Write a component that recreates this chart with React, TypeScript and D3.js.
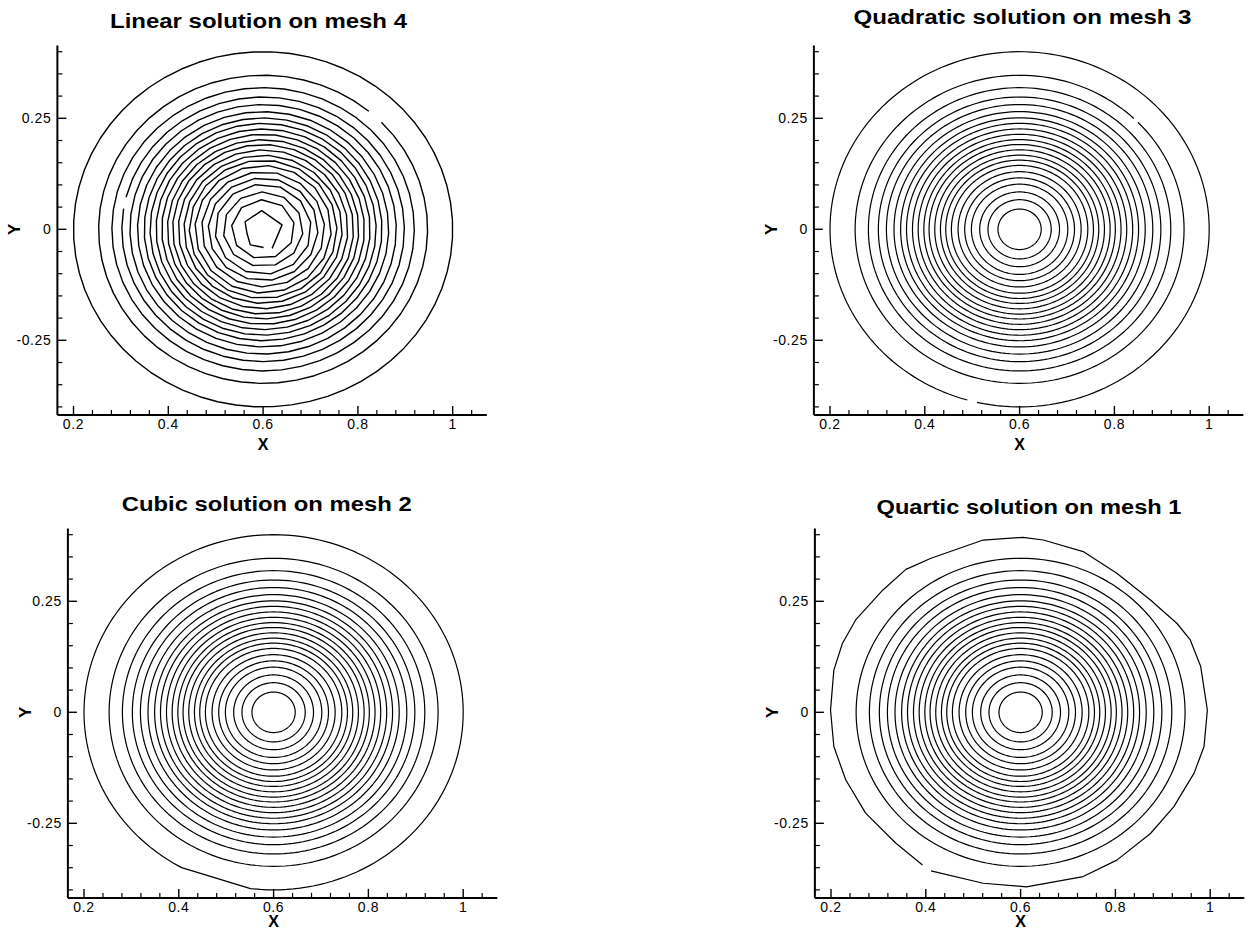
import React from 'react';
import * as d3 from 'd3';

// ---------------- data ----------------
const ringRadii = [0.0456, 0.0667, 0.0842, 0.1017, 0.1158, 0.1298, 0.1439, 0.1558, 0.167, 0.179, 0.191,
  0.202, 0.214, 0.226, 0.2386, 0.251, 0.265, 0.281, 0.298, 0.319, 0.347, 0.4];
const centerX = 0.6;
const centerY = 0;

const xMajorTicks = [0.2, 0.4, 0.6, 0.8, 1.0];
const xMajorLabels = ['0.2', '0.4', '0.6', '0.8', '1'];
const yMajorTicks = [0.25, 0, -0.25];
const yMajorLabels = ['0.25', '0', '-0.25'];

const titles = ['Linear solution on mesh 4', 'Quadratic solution on mesh 3', 'Cubic solution on mesh 2', 'Quartic solution on mesh 1'];

// innermost contour of the linear solution (polygonal, open at the bottom gap)
const linearInnerRing: [number, number][] = [
  [0.619, -0.043], [0.640, 0.010], [0.597, 0.042], [0.562, 0.017], [0.566, -0.009], [0.573, -0.035], [0.601, -0.041]];
// vertex counts of linear contours (piecewise-linear look)
const linearVertexCounts = [7, 9, 11, 12, 14, 15, 16, 18, 20, 22, 24, 26, 28, 30, 32, 34, 36, 40, 44, 48, 56, 64];

// irregular outer contour of the quartic solution (open at the gap)
const quarticOuterRing: [number, number][] = [
  [0.393, -0.344], [0.337, -0.295], [0.273, -0.227], [0.231, -0.152], [0.206, -0.077], [0.199, 0.005],
  [0.206, 0.095], [0.224, 0.155], [0.252, 0.208], [0.309, 0.275], [0.358, 0.322], [0.411, 0.347],
  [0.521, 0.388], [0.605, 0.394], [0.648, 0.388], [0.732, 0.362], [0.803, 0.313], [0.874, 0.253],
  [0.930, 0.200], [0.958, 0.163], [0.980, 0.103], [0.994, 0.005], [0.987, -0.077], [0.966, -0.137],
  [0.923, -0.213], [0.874, -0.273], [0.803, -0.333], [0.732, -0.370], [0.612, -0.393], [0.521, -0.385],
  [0.411, -0.357]];

// small gaps in contours: [panel, ring, fromDeg, toDeg]
const contourGaps: [number, number, number, number][] = [
  [0, 20, 44, 50],
  [0, 18, 166, 171],
  [1, 21, -106, -103],
  [1, 20, 44, 46],
];
// flattened (chord) parts of contours: [panel, ring, fromDeg, toDeg]
const contourChords: [number, number, number, number][] = [
  [2, 21, -119, -97],
];

// ---------------- layout ----------------
const KX = 474;
const KY = 444;
const X_MIN = 0.166, X_MAX = 1.072, Y_MIN = -0.418, Y_MAX = 0.414;

const panels = [
  { x0: 73.5, y0: 229.3, titleX: 258.5, titleY: 28, titleW: 297, yLabelX: 20, xLabelY: 449.5 },
  { x0: 830, y0: 229.3, titleX: 1022.5, titleY: 24, titleW: 338, yLabelX: 777, xLabelY: 449.5 },
  { x0: 84, y0: 712.3, titleX: 266.7, titleY: 511, titleW: 290, yLabelX: 31, xLabelY: 927 },
  { x0: 831, y0: 712.3, titleX: 1029, titleY: 514, titleW: 305, yLabelX: 778, xLabelY: 927 },
];

const FONT = '"Liberation Sans", Arial, Helvetica, sans-serif';

function ringAngles(n: number, rot: number, gap?: [number, number], chord?: [number, number]) {
  let angles: number[];
  if (gap) {
    const start = gap[1];
    const end = gap[0] + 360;
    const steps = Math.max(2, Math.round((n * (end - start)) / 360));
    angles = d3.range(steps + 1).map((i) => start + ((end - start) * i) / steps);
  } else {
    angles = d3.range(n).map((i) => rot + (i * 360) / n);
  }
  if (chord) {
    const norm = (a: number) => ((a % 360) + 360) % 360;
    const c0 = norm(chord[0]);
    const c1 = norm(chord[1]);
    angles = angles.filter((a) => {
      const na = norm(a);
      return !(na > c0 && na < c1);
    });
    angles.push(chord[0], chord[1]);
    angles = angles.map(norm).sort((a, b) => a - b);
  }
  return angles;
}

function Panel({ idx }: { idx: number }) {
  const p = panels[idx];
  const sx = d3.scaleLinear().domain([0.2, 1.0]).range([p.x0, p.x0 + 0.8 * KX]);
  const sy = d3.scaleLinear().domain([0, 0.25]).range([p.y0, p.y0 - 0.25 * KY]);
  const lineOpen = d3.line<[number, number]>().x((d) => sx(d[0])).y((d) => sy(d[1])).curve(d3.curveLinear);
  const lineClosed = d3.line<[number, number]>().x((d) => sx(d[0])).y((d) => sy(d[1])).curve(d3.curveLinearClosed);

  const paths: string[] = [];
  ringRadii.forEach((r, k) => {
    if (idx === 0 && k === 0) {
      paths.push(lineOpen(linearInnerRing) || '');
      return;
    }
    if (idx === 3 && k === ringRadii.length - 1) {
      paths.push(lineOpen(quarticOuterRing) || '');
      return;
    }
    const g = contourGaps.find((c) => c[0] === idx && c[1] === k);
    const ch = contourChords.find((c) => c[0] === idx && c[1] === k);
    const n = idx === 0 ? linearVertexCounts[k] : 180;
    const rot = idx === 0 ? (k * 13) % 30 : 0;
    const angles = ringAngles(n, rot, g ? [g[2], g[3]] : undefined, ch ? [ch[2], ch[3]] : undefined);
    const pts: [number, number][] = angles.map((a) => {
      const t = (a * Math.PI) / 180;
      return [centerX + r * Math.cos(t), centerY + r * Math.sin(t)];
    });
    paths.push((g ? lineOpen(pts) : lineClosed(pts)) || '');
  });

  const xMinor = d3.range(0.24, 1.06, 0.04).filter((v) => Math.abs((v - 0.2) / 0.2 - Math.round((v - 0.2) / 0.2)) > 1e-6);
  const yMinor = d3.range(-0.4, 0.401, 0.05).filter((v) => Math.abs(v / 0.25 - Math.round(v / 0.25)) > 1e-6);

  const axX = sx(X_MIN);
  const axY = sy(Y_MIN);

  return (
    <g>
      <text x={p.titleX} y={p.titleY} textAnchor="middle" fontFamily={FONT} fontWeight="bold" fontSize={20}
        textLength={p.titleW} lengthAdjust="spacingAndGlyphs" fill="#000">{titles[idx]}</text>
      <g fill="none" stroke="#000" strokeWidth={idx === 0 ? 1.4 : 1.2} strokeLinejoin="round">
        {paths.map((d, i) => <path key={i} d={d} />)}
      </g>
      {/* axes */}
      <g stroke="#000">
        <line x1={axX} y1={sy(Y_MAX)} x2={axX} y2={axY} strokeWidth={2} />
        <line x1={axX} y1={axY} x2={sx(X_MAX)} y2={axY} strokeWidth={2} />
        {xMajorTicks.map((v, i) => <line key={'xM' + i} x1={sx(v)} x2={sx(v)} y1={axY} y2={axY - 9} strokeWidth={1.4} />)}
        {xMinor.map((v, i) => <line key={'xm' + i} x1={sx(v)} x2={sx(v)} y1={axY} y2={axY - 5} strokeWidth={1.2} />)}
        {yMajorTicks.map((v, i) => <line key={'yM' + i} x1={axX} x2={axX + 9} y1={sy(v)} y2={sy(v)} strokeWidth={1.4} />)}
        {yMinor.map((v, i) => <line key={'ym' + i} x1={axX} x2={axX + 5} y1={sy(v)} y2={sy(v)} strokeWidth={1.2} />)}
      </g>
      <g fontFamily={FONT} fontSize={14} fill="#000">
        {xMajorTicks.map((v, i) => (
          <text key={'xl' + i} x={sx(v)} y={axY + 14} textAnchor="middle" letterSpacing={0.6}>{xMajorLabels[i]}</text>
        ))}
        {yMajorTicks.map((v, i) => (
          <text key={'yl' + i} x={axX - 6} y={sy(v) + 5} textAnchor="end" letterSpacing={0.6}>{yMajorLabels[i]}</text>
        ))}
      </g>
      <text x={sx(0.6)} y={p.xLabelY} textAnchor="middle" fontFamily={FONT} fontWeight="bold" fontSize={16}>X</text>
      <text transform={`translate(${p.yLabelX},${sy(0)}) rotate(-90)`} textAnchor="middle" fontFamily={FONT}
        fontWeight="bold" fontSize={17}>Y</text>
    </g>
  );
}

export default function App() {
  return (
    <svg width={1251} height={932} style={{ position: 'absolute', left: 0, top: 0, background: '#fff' }}>
      <rect x={0} y={0} width={1251} height={932} fill="#fff" />
      {panels.map((_, i) => <Panel key={i} idx={i} />)}
    </svg>
  );
}
